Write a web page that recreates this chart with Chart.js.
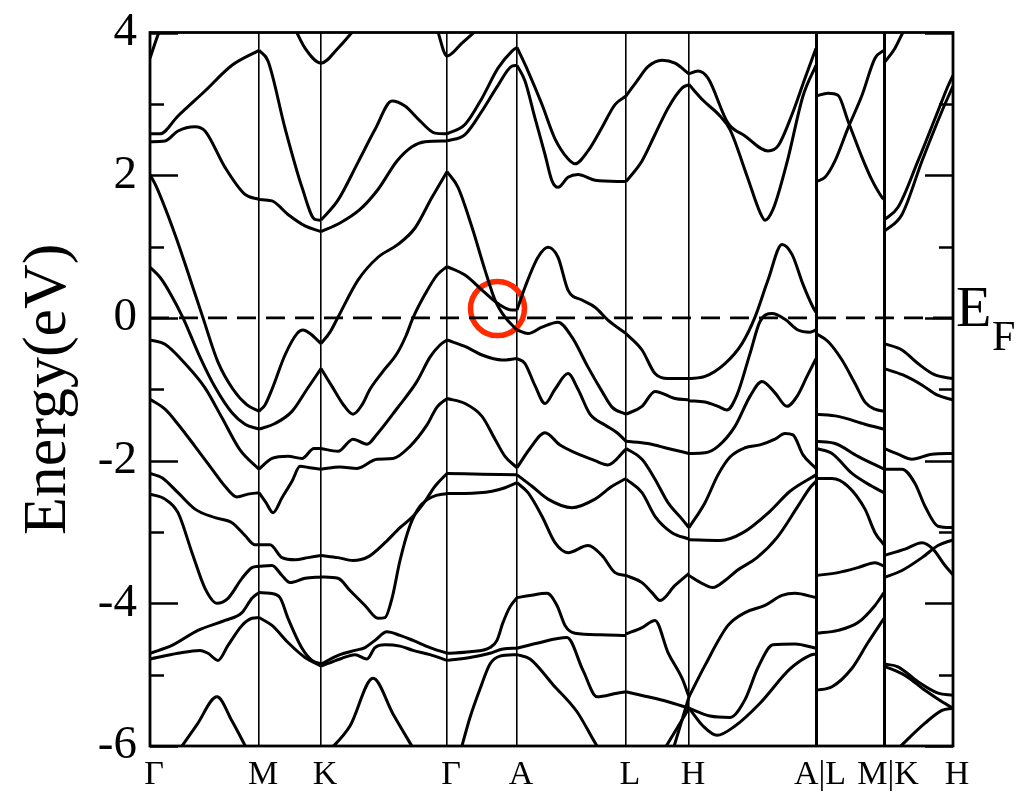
<!DOCTYPE html>
<html><head><meta charset="utf-8">
<script src="https://cdn.jsdelivr.net/npm/chart.js@4.4.1/dist/chart.umd.min.js"></script>
<style>html,body{margin:0;padding:0;background:#fff;}#c{display:block;}</style>
</head><body>
<canvas id="c" width="1030" height="800"></canvas>
<script>
// k-path positions of high-symmetry points (arbitrary k-distance units) and labels
const kTicks = [0, 109, 171, 297, 367, 476, 539, 666, 734, 803];
const kLabels = ['Γ', 'M', 'K', 'Γ', 'A', 'L', 'H', 'A|L', 'M|K', 'H'];
const energyTicks = [-6, -5, -4, -3, -2, -1, 0, 1, 2, 3, 4];

// bands, one array per path segment: each band is a list of [k, E(eV)]
const segGM = [
  [[0,3.64],[5,3.85],[10,4.05]],
  [[0,2.58],[10,2.58],[28,2.83],[55,3.18],[82,3.54],[109,3.75]],
  [[0,2.47],[15,2.48],[28,2.62],[45,2.68],[55,2.62],[75,2.11],[95,1.73],[109,1.66]],
  [[0,2.01],[6,1.85],[25,1.17],[40,0.55],[53,0.0],[68,-0.62],[83,-1.0],[97,-1.22],[109,-1.31]],
  [[0,0.71],[10,0.57],[20,0.35],[33,0.0],[50,-0.55],[65,-0.97],[82,-1.33],[95,-1.49],[109,-1.56]],
  [[0,-0.31],[15,-0.37],[35,-0.64],[55,-0.98],[72,-1.40],[90,-1.85],[109,-2.12]],
  [[0,-1.14],[15,-1.28],[28,-1.49],[45,-1.80],[62,-2.12],[75,-2.36],[87,-2.51],[98,-2.47],[109,-2.45]],
  [[0,-2.18],[12,-2.24],[28,-2.45],[45,-2.68],[65,-2.80],[82,-2.87],[95,-3.05],[105,-3.18],[109,-3.18]],
  [[0,-2.47],[15,-2.54],[28,-2.73],[42,-3.29],[55,-3.79],[67,-4.0],[78,-3.93],[92,-3.65],[102,-3.5],[109,-3.48]],
  [[0,-4.70],[22,-4.59],[48,-4.38],[75,-4.24],[92,-4.13],[102,-3.93],[109,-3.85]],
  [[0,-4.78],[28,-4.70],[50,-4.66],[58,-4.70],[68,-4.80],[78,-4.59],[92,-4.31],[102,-4.21],[109,-4.2]],
  [[27,-6.1],[47,-5.7],[67,-5.31],[82,-5.65],[99,-6.1]]
];
const segMK = [
  [[109,3.75],[118,3.60],[135,2.66],[152,1.83],[165,1.38],[171,1.37]],
  [[109,1.66],[122,1.64],[138,1.45],[155,1.29],[171,1.21]],
  [[145,4.05],[155,3.78],[171,3.57],[188,3.78],[205,4.05]],
  [[109,-1.31],[115,-1.22],[122,-1.0],[135,-0.52],[147,-0.22],[153,-0.17],[160,-0.22],[171,-0.36]],
  [[109,-1.56],[125,-1.48],[142,-1.31],[157,-1.0],[171,-0.71]],
  [[109,-2.12],[122,-1.97],[138,-1.94],[152,-1.97],[164,-1.83],[171,-1.83]],
  [[109,-2.45],[116,-2.59],[123,-2.73],[132,-2.52],[142,-2.29],[150,-2.08],[160,-2.10],[171,-2.12]],
  [[109,-3.18],[120,-3.18],[132,-3.36],[145,-3.39],[158,-3.36],[171,-3.33]],
  [[109,-3.48],[122,-3.47],[132,-3.61],[140,-3.71],[155,-3.65],[171,-3.63]],
  [[109,-3.85],[120,-3.86],[130,-3.92],[138,-4.21],[152,-4.63],[162,-4.80],[171,-4.85]],
  [[109,-4.2],[122,-4.31],[138,-4.55],[155,-4.76],[171,-4.88]]
];
const segKG = [
  [[171,1.37],[188,1.65],[208,2.18],[225,2.64],[242,3.04],[255,2.97],[270,2.76],[285,2.59],[297,2.58]],
  [[171,1.21],[190,1.33],[210,1.52],[228,1.8],[247,2.2],[262,2.4],[275,2.47],[297,2.48]],
  [[171,-0.36],[180,-0.2],[188,0.01],[208,0.53],[228,0.85],[248,1.03],[265,1.26],[282,1.69],[297,2.05]],
  [[171,-0.71],[182,-0.96],[193,-1.21],[203,-1.35],[212,-1.22],[220,-1.0],[233,-0.75],[247,-0.5],[256,-0.25],[263,0.0],[275,0.33],[287,0.6],[297,0.72]],
  [[171,-1.83],[188,-1.87],[203,-1.70],[217,-1.77],[227,-1.63],[247,-1.27],[267,-0.89],[280,-0.55],[290,-0.38],[297,-0.31]],
  [[171,-2.12],[190,-2.09],[207,-2.11],[227,-1.98],[243,-1.97],[260,-1.80],[277,-1.50],[287,-1.25],[297,-1.13]],
  [[171,-3.33],[188,-3.36],[203,-3.40],[218,-3.35],[235,-3.15],[250,-2.94],[263,-2.78],[275,-2.57],[285,-2.36],[297,-2.18]],
  [[171,-3.63],[188,-3.65],[200,-3.82],[215,-4.03],[228,-4.21],[235,-4.2],[242,-3.93],[250,-3.40],[260,-2.91],[270,-2.64],[282,-2.51],[297,-2.46]],
  [[171,-4.85],[190,-4.72],[205,-4.66],[215,-4.62],[225,-4.52],[237,-4.40],[250,-4.45],[263,-4.52],[280,-4.62],[297,-4.70]],
  [[171,-4.88],[190,-4.78],[205,-4.72],[217,-4.78],[225,-4.62],[235,-4.58],[250,-4.6],[263,-4.66],[280,-4.72],[297,-4.80]],
  [[177,-6.1],[200,-5.72],[223,-5.05],[243,-5.55],[266,-6.1]],
  [[287,4.05],[297,3.67],[312,3.85],[328,4.05]]
];
const segGA = [
  [[297,2.58],[315,2.71],[332,3.08],[348,3.50],[362,3.74],[367,3.79]],
  [[297,2.48],[315,2.57],[332,2.90],[348,3.26],[362,3.53],[367,3.54]],
  [[297,2.05],[308,1.83],[322,1.27],[335,0.67],[345,0.25],[355,0.01],[367,-0.17]],
  [[297,0.72],[315,0.60],[332,0.39],[348,0.20],[362,0.11],[367,0.11]],
  [[297,-0.31],[315,-0.40],[332,-0.52],[352,-0.59],[367,-0.57]],
  [[297,-1.13],[315,-1.20],[332,-1.38],[345,-1.70],[355,-1.94],[367,-2.10]],
  [[297,-2.18],[332,-2.19],[367,-2.2]],
  [[297,-2.46],[315,-2.46],[342,-2.43],[355,-2.38],[367,-2.31]],
  [[297,-4.70],[320,-4.68],[340,-4.62],[347,-4.52],[353,-4.27],[360,-4.05],[367,-3.92]],
  [[297,-4.80],[320,-4.76],[340,-4.70],[353,-4.64],[367,-4.63]],
  [[310,-6.1],[320,-5.6],[330,-5.2],[340,-4.85],[350,-4.74],[367,-4.72]]
];
const segAL = [
  [[367,3.79],[378,3.46],[392,2.99],[405,2.51],[418,2.23],[425,2.16],[438,2.34],[452,2.67],[465,2.99],[476,3.11]],
  [[367,3.54],[375,3.32],[385,2.80],[395,2.29],[402,1.92],[408,1.83],[418,1.97],[428,2.01],[445,1.93],[476,1.91]],
  [[367,0.11],[375,0.43],[388,0.85],[398,0.99],[408,0.85],[418,0.39],[432,0.25],[445,0.15],[458,-0.03],[476,-0.22]],
  [[367,-0.17],[378,-0.22],[392,-0.13],[408,-0.06],[422,-0.27],[438,-0.69],[452,-1.03],[462,-1.25],[476,-1.35]],
  [[367,-0.57],[375,-0.64],[385,-0.95],[395,-1.20],[405,-1.0],[418,-0.78],[428,-1.0],[440,-1.35],[455,-1.5],[468,-1.62],[476,-1.73]],
  [[367,-2.10],[380,-1.83],[395,-1.61],[410,-1.78],[445,-2.0],[458,-2.06],[476,-1.84]],
  [[367,-2.2],[382,-2.36],[398,-2.54],[422,-2.66],[445,-2.54],[462,-2.36],[476,-2.25]],
  [[367,-2.31],[378,-2.45],[392,-2.78],[405,-3.15],[418,-3.29],[438,-3.19],[452,-3.33],[465,-3.57],[476,-3.61]],
  [[367,-3.92],[380,-3.89],[397,-3.86],[407,-4.03],[415,-4.31],[425,-4.42],[450,-4.44],[476,-4.45]],
  [[367,-4.63],[387,-4.56],[417,-4.48],[433,-4.94],[447,-5.31],[467,-5.26],[476,-5.24]],
  [[367,-4.72],[380,-4.78],[403,-5.14],[427,-5.52],[447,-6.0],[452,-6.1]]
];
const segLH = [
  [[476,3.11],[486,3.3],[498,3.52],[512,3.61],[525,3.57],[539,3.42]],
  [[476,1.91],[492,2.20],[505,2.57],[518,2.94],[532,3.22],[539,3.27]],
  [[476,-0.22],[492,-0.45],[505,-0.78],[518,-0.85],[539,-0.85]],
  [[476,-1.35],[492,-1.24],[505,-1.03],[525,-1.13],[539,-1.15]],
  [[476,-1.73],[498,-1.76],[518,-1.83],[539,-1.90]],
  [[476,-1.83],[492,-1.98],[505,-2.26],[518,-2.59],[532,-2.82],[539,-2.94]],
  [[476,-2.26],[492,-2.45],[505,-2.78],[522,-3.01],[539,-3.10]],
  [[476,-3.61],[492,-3.71],[502,-3.85],[510,-3.96],[525,-3.75],[539,-3.58]],
  [[476,-4.43],[492,-4.34],[505,-4.24],[518,-4.69],[532,-5.05],[539,-5.31]],
  [[476,-5.24],[498,-5.31],[518,-5.38],[539,-5.47]],
  [[512,-6.1],[539,-5.47]],
  [[522,-6.1],[539,-5.31]]
];
const segHA = [
  [[539,3.42],[548,3.46],[558,3.36],[578,2.73],[595,2.55],[618,2.34],[628,2.41],[642,2.85],[655,3.36],[666,3.78]],
  [[539,3.27],[553,3.05],[570,2.83],[580,2.64],[597,1.99],[610,1.48],[615,1.37],[623,1.52],[637,2.18],[653,3.11],[666,3.54]],
  [[539,-0.85],[555,-0.82],[575,-0.64],[592,-0.36],[605,0.01],[618,0.53],[632,1.03],[642,0.89],[653,0.47],[663,0.15],[666,0.08]],
  [[539,-1.16],[555,-1.18],[568,-1.24],[577,-1.29],[587,-1.08],[600,-0.5],[610,-0.05],[622,0.06],[635,-0.02],[648,-0.17],[660,-0.2],[666,-0.17]],
  [[539,-1.90],[555,-1.89],[568,-1.80],[585,-1.52],[600,-1.10],[612,-0.89],[625,-1.05],[637,-1.24],[647,-1.10],[657,-0.82],[666,-0.57]],
  [[539,-2.94],[555,-2.59],[568,-2.20],[580,-1.95],[595,-1.82],[610,-1.78],[625,-1.70],[635,-1.62],[643,-1.64],[653,-1.92],[666,-2.11]],
  [[539,-3.11],[570,-3.12],[593,-3.01],[620,-2.71],[640,-2.43],[666,-2.2]],
  [[539,-3.61],[552,-3.72],[563,-3.78],[575,-3.68],[587,-3.54],[607,-3.36],[627,-3.08],[647,-2.66],[660,-2.38],[666,-2.29]],
  [[539,-5.31],[555,-4.87],[578,-4.31],[595,-4.13],[615,-4.03],[632,-3.89],[645,-3.86],[666,-3.92]],
  [[539,-5.47],[560,-5.58],[580,-5.6],[595,-5.35],[608,-4.9],[623,-4.58],[645,-4.57],[666,-4.63]],
  [[539,-5.47],[553,-5.72],[567,-5.85],[585,-5.72],[610,-5.4],[640,-4.92],[660,-4.73],[666,-4.71]]
];
const segLM = [
  [[666,3.11],[678,3.15],[688,3.12],[698,2.76],[712,2.25],[722,1.93],[732,1.69],[734,1.66]],
  [[666,1.91],[675,1.97],[685,2.20],[698,2.66],[712,3.12],[725,3.64],[734,3.75]],
  [[666,-0.22],[678,-0.33],[692,-0.59],[705,-0.92],[715,-1.18],[725,-1.28],[734,-1.31]],
  [[666,-1.35],[688,-1.38],[715,-1.49],[734,-1.56]],
  [[666,-1.73],[685,-1.76],[708,-1.94],[734,-2.12]],
  [[666,-1.83],[682,-1.90],[702,-2.18],[722,-2.36],[734,-2.45]],
  [[666,-2.25],[682,-2.25],[698,-2.36],[715,-2.68],[725,-3.01],[734,-3.18]],
  [[666,-3.61],[688,-3.57],[708,-3.50],[725,-3.43],[734,-3.48]],
  [[666,-4.42],[688,-4.38],[708,-4.27],[725,-4.03],[734,-3.85]],
  [[666,-5.22],[682,-5.17],[702,-4.91],[718,-4.55],[734,-4.21]]
];
const segKH = [
  [[734,3.57],[745,3.78],[753,4.0],[758,4.1]],
  [[734,1.37],[748,1.55],[768,2.20],[788,2.90],[798,3.25],[803,3.40]],
  [[734,1.21],[752,1.45],[772,2.20],[792,2.90],[803,3.25]],
  [[734,-0.36],[752,-0.45],[768,-0.64],[785,-0.80],[803,-0.85]],
  [[734,-0.71],[753,-0.80],[773,-0.95],[787,-1.08],[803,-1.15]],
  [[734,-1.83],[748,-1.91],[762,-1.98],[782,-1.91],[803,-1.90]],
  [[734,-2.12],[752,-2.12],[765,-2.32],[775,-2.64],[788,-2.92],[803,-2.94]],
  [[734,-3.33],[755,-3.24],[772,-3.15],[783,-3.24],[795,-3.47],[803,-3.60]],
  [[734,-3.64],[752,-3.54],[772,-3.36],[788,-3.19],[803,-3.11]],
  [[734,-4.85],[748,-4.89],[768,-5.10],[788,-5.26],[803,-5.29]],
  [[734,-4.88],[755,-5.01],[775,-5.22],[792,-5.38],[803,-5.47]],
  [[747,-6.05],[775,-5.68],[792,-5.50],[803,-5.47]]
];
const fermiLine = [[0, 0], [803, 0]];
const highlight = [[347.5, 0.13]];

const segments = [segGM, segMK, segKG, segGA, segAL, segLH, segHA, segLM, segKH];
const serif = '"Liberation Serif", "DejaVu Serif", serif';
const toXY = arr => arr.map(p => ({x: p[0], y: p[1]}));

const datasets = [];
segments.forEach(seg => seg.forEach(band => datasets.push({
  type: 'line', data: toXY(band), borderColor: '#000', borderWidth: 3,
  pointRadius: 0, cubicInterpolationMode: 'monotone', fill: false, clip: 0
})));
datasets.push({type: 'line', data: toXY(fermiLine), borderColor: '#000', borderWidth: 2.6,
  borderDash: [19, 10], pointRadius: 0, fill: false, clip: 0});
datasets.push({type: 'scatter', data: toXY(highlight), pointRadius: 27, pointBorderWidth: 5.5,
  pointBorderColor: '#ff2a00', pointBackgroundColor: 'rgba(0,0,0,0)', pointStyle: 'circle', clip: false});

const framePlugin = {
  id: 'frame',
  afterDatasetsDraw(chart) {
    const {ctx, chartArea: a, scales: {y}} = chart;
    ctx.save();
    ctx.strokeStyle = '#000';
    ctx.lineWidth = 2.5;
    energyTicks.forEach(v => {
      const py = Math.round(y.getPixelForValue(v)) + 0.5;
      const len = (v % 2 === 0) ? 28 : 14;
      ctx.beginPath();
      ctx.moveTo(a.left, py); ctx.lineTo(a.left + len, py);
      ctx.moveTo(a.right, py); ctx.lineTo(a.right - len, py);
      ctx.stroke();
    });
    ctx.lineWidth = 2.8;
    ctx.strokeRect(a.left, a.top, a.right - a.left, a.bottom - a.top);
    const y0 = y.getPixelForValue(0);
    ctx.fillStyle = '#000';
    ctx.textBaseline = 'alphabetic';
    ctx.textAlign = 'left';
    ctx.font = '58px ' + serif;
    ctx.fillText('E', a.right + 3, y0 + 8);
    ctx.font = '42px ' + serif;
    ctx.fillText('F', a.right + 39, y0 + 32);
    ctx.restore();
  }
};

const noOverflow = s => { s.paddingTop = 0; s.paddingBottom = 0; s.paddingLeft = 0; s.paddingRight = 0; };

new Chart(document.getElementById('c'), {
  data: {datasets},
  options: {
    responsive: false, animation: false, devicePixelRatio: 1,
    layout: {padding: {left: 0, right: 77, top: 29, bottom: 0}},
    plugins: {legend: {display: false}, tooltip: {enabled: false}},
    scales: {
      x: {
        type: 'linear', min: 0, max: 803,
        afterBuildTicks: s => { s.ticks = kTicks.map(v => ({value: v})); },
        afterFit: s => { s.height = 54; noOverflow(s); },
        grid: {color: '#000', drawTicks: false,
          lineWidth: c => (c.index === 7 || c.index === 8) ? 3 : 1.6},
        border: {display: false},
        ticks: {autoSkip: false, maxRotation: 0, padding: 9, labelOffset: 4, color: '#000',
          font: {family: serif, size: 34},
          callback: (v, i) => kLabels[i]}
      },
      y: {
        type: 'linear', min: -6, max: 4,
        afterBuildTicks: s => { s.ticks = energyTicks.map(v => ({value: v})); },
        afterFit: s => { s.width = 150; noOverflow(s); },
        grid: {display: false, drawTicks: false},
        border: {display: false},
        title: {display: true, text: 'Energy(eV)', color: '#000',
          font: {family: serif, size: 62}, padding: {top: 12, bottom: 0}},
        ticks: {padding: 13, color: '#000', font: {family: serif, size: 47},
          callback: v => (v % 2 === 0) ? String(v) : ''}
      }
    }
  },
  plugins: [framePlugin]
});
</script>
</body></html>
